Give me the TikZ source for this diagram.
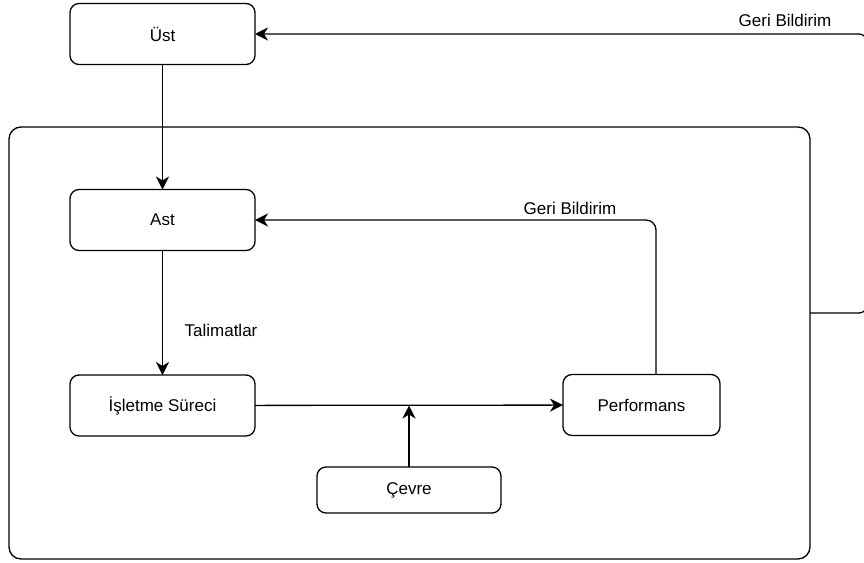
\documentclass[tikz,border=0pt]{standalone}
\usepackage{fontspec}
\setmainfont{Liberation Sans}
\usetikzlibrary{arrows.meta,calc}

\tikzset{
  box/.style={draw, line width=1.3pt, rounded corners=9pt, minimum width=185pt,
    minimum height=61pt, inner sep=0pt, outer sep=0pt, font=\fontsize{17}{20}\selectfont},
  frame/.style={draw, line width=1.3pt, rounded corners=12pt, inner sep=0pt, outer sep=0pt},
  arr/.style={line width=1.3pt, -{Stealth[length=13pt,width=13pt,inset=4pt]}},
  lbl/.style={font=\fontsize{17}{20}\selectfont, inner sep=0pt}
}

\begin{document}
\begin{tikzpicture}[x=1pt,y=-1pt]
  \useasboundingbox (0,0) rectangle (864,562);

  % outer system boundary
  \node[frame, minimum width=801pt, minimum height=432pt] (frame) at (409.5,343) {};

  % blocks
  \node[box] (ust) at (162.5,34) {Üst};
  \node[box] (ast) at (162.5,220) {Ast};
  \node[box] (isl) at (162.5,405.5) {İşletme Süreci};
  \node[box, minimum width=157pt] (perf) at (641.5,405) {Performans};
  \node[box, minimum width=184pt, minimum height=46pt] (cevre) at (409,490) {Çevre};

  % main flow
  \draw[arr] (ust) -- (ast);
  \draw[arr] (ast) -- (isl);
  \draw[arr] (isl) -- (perf);
  \coordinate (join) at (cevre.north |- isl.east);
  \draw[arr] (cevre) -- (join);

  % inner feedback loop
  \coordinate (pfb) at (656,374);
  \draw[arr, rounded corners=10pt] (pfb) |- (ast.east);

  % outer feedback loop, its right side running along the page edge
  \coordinate (ofb) at (810,313);
  \coordinate (ofr) at (867,313);
  \draw[arr, rounded corners=8pt] (ofb) -- (ofr) |- (ust.east);

  % labels
  \node[lbl] (talimat) at (221,330) {Talimatlar};
  \node[lbl] (gbin) at (570,208) {Geri Bildirim};
  \node[lbl] (gbout) at (785,20) {Geri Bildirim};
\end{tikzpicture}
\end{document}
